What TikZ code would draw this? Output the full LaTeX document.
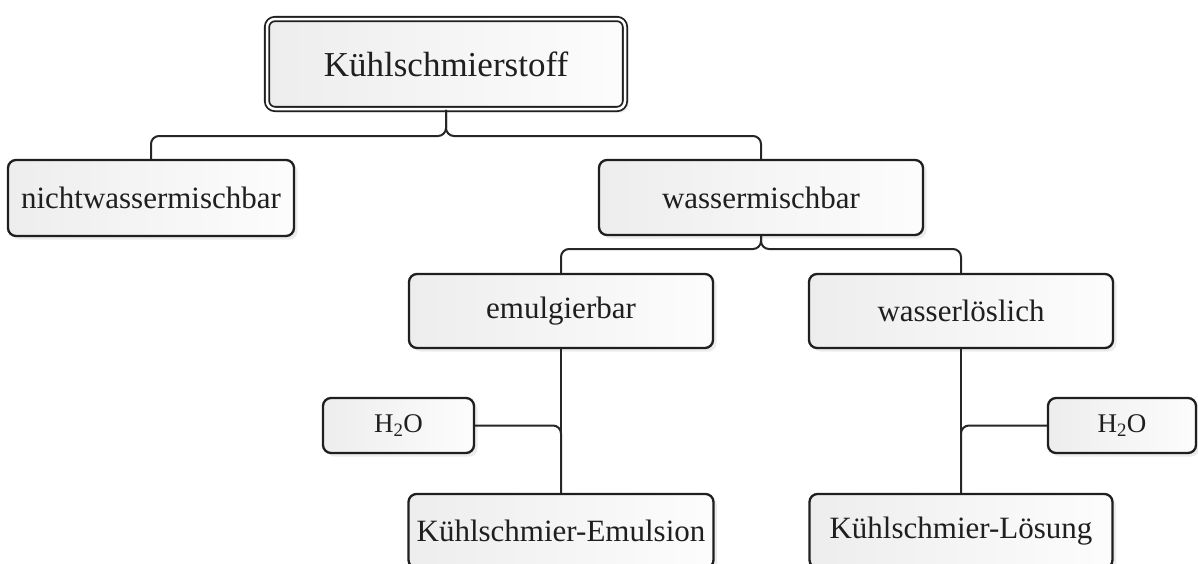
\documentclass[tikz,border=0pt]{standalone}
\usepackage{fontspec}
\setmainfont{Liberation Serif}
\usetikzlibrary{shadows}
\begin{document}
\begin{tikzpicture}[x=1pt,y=-1pt,
  box/.style={draw=black!88, line width=2.3pt, rounded corners=8pt,
    left color=black!7, right color=black!1,
    drop shadow={shadow xshift=3.5pt, shadow yshift=-3.5pt, fill=black!15},
    inner sep=0pt, font=\fontsize{31}{36}\selectfont, text=black!88},
  small/.style={font=\fontsize{27}{31}\selectfont},
  conn/.style={draw=black!85, line width=2pt, rounded corners=8pt}]
\path[use as bounding box] (0,0) rectangle (1198,563);
\clip (0,0) rectangle (1198,563);

\node[box, double=white, double distance=2.5pt, line width=1.8pt,
      minimum width=358pt, minimum height=90pt,
      font=\fontsize{35}{40}\selectfont] (top) at (446,64) {Kühlschmierstoff};
\node[box, minimum width=286pt, minimum height=76pt] (nicht) at (151,198) {nichtwassermischbar};
\node[box, minimum width=324pt, minimum height=75pt] (wasser) at (761,197.5) {wassermischbar};
\node[box, minimum width=304pt, minimum height=74pt] (emul) at (561,311) {emulgierbar};
\node[box, minimum width=304pt, minimum height=74pt] (loes) at (961,311) {wasserlöslich};
\node[box, small, minimum width=151pt, minimum height=55pt] (h2oL) at (398.5,425.5) {H\textsubscript{2}O};
\node[box, small, minimum width=148pt, minimum height=55pt] (h2oR) at (1122,425.5) {H\textsubscript{2}O};
\node[box, minimum width=305pt, minimum height=74pt] (emulsion) at (561,531) {Kühlschmier-Emulsion};
\node[box, minimum width=303pt, minimum height=74pt] (loesung) at (961,531) {Kühlschmier-Lösung};

\coordinate (j1) at (top.south |- 0,136);
\coordinate (j2) at (wasser.south |- 0,249);
\draw[conn] (top.south) -- (j1) -| (nicht.north);
\draw[conn] (top.south) -- (j1) -| (wasser.north);
\draw[conn] (wasser.south) -- (j2) -| (emul.north);
\draw[conn] (wasser.south) -- (j2) -| (loes.north);
\draw[conn] (emul.south) -- (emulsion.north);
\draw[conn] (loes.south) -- (loesung.north);
\draw[conn] (h2oL.east) -| (emulsion.north);
\draw[conn] (h2oR.west) -| (loesung.north);
\end{tikzpicture}
\end{document}
